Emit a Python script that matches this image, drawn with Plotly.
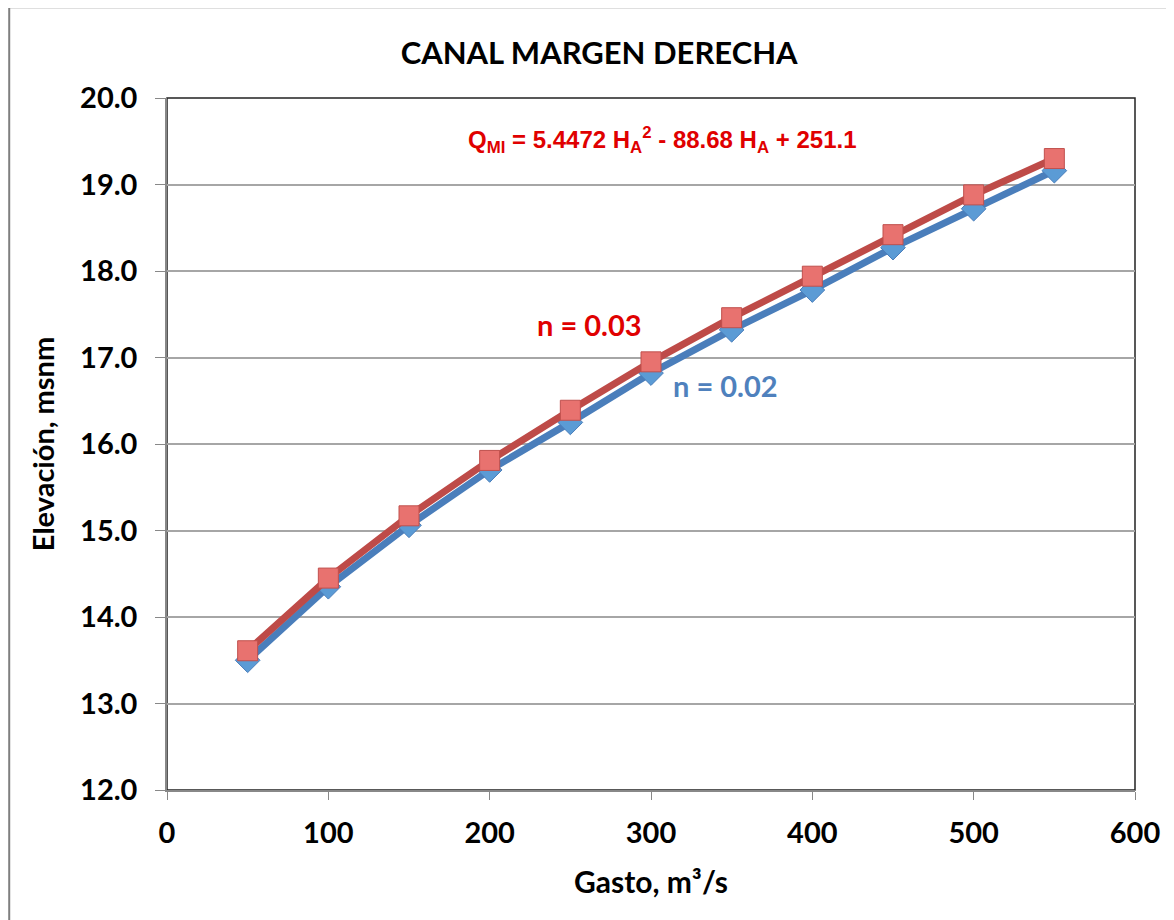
import plotly.graph_objects as go

# Datos
gasto = [50, 100, 150, 200, 250, 300, 350, 400, 450, 500, 550]
elev_n002 = [13.50, 14.35, 15.06, 15.70, 16.25, 16.82, 17.32, 17.78, 18.27, 18.72, 19.16]
elev_n003 = [13.61, 14.45, 15.17, 15.81, 16.39, 16.95, 17.46, 17.94, 18.42, 18.88, 19.30]

x_ticks = [0, 100, 200, 300, 400, 500, 600]
y_ticks = [12.0, 13.0, 14.0, 15.0, 16.0, 17.0, 18.0, 19.0, 20.0]

FONT = "Lato, 'Open Sans', sans-serif"

fig = go.Figure()

# n = 0.02 (azul, rombos)
fig.add_trace(go.Scatter(
    x=gasto, y=elev_n002, mode="lines+markers", name="n = 0.02",
    line=dict(color="#4A7EBB", width=7),
    marker=dict(symbol="diamond", size=19, color="#5B9BD5",
                line=dict(color="#4A7EBB", width=1)),
    showlegend=False
))

# n = 0.03 (rojo, cuadrados)
fig.add_trace(go.Scatter(
    x=gasto, y=elev_n003, mode="lines+markers", name="n = 0.03",
    line=dict(color="#BE4B48", width=7),
    marker=dict(symbol="square", size=20, color="#E8726F",
                line=dict(color="#C0504D", width=1)),
    showlegend=False
))

# Etiquetas
fig.add_annotation(x=262, y=17.38, text="<b>n = 0.03</b>", showarrow=False,
                   font=dict(family=FONT, size=29, color="#E00000"))
fig.add_annotation(x=346, y=16.68, text="<b>n = 0.02</b>", showarrow=False,
                   font=dict(family=FONT, size=29, color="#4F81BD"))
fig.add_annotation(
    x=307, y=19.52, showarrow=False,
    text="<b>Q<sub>MI</sub> = 5.4472 H<sub>A</sub><sup>2</sup> - 88.68 H<sub>A</sub> + 251.1</b>",
    font=dict(family="Liberation Sans, Arial, sans-serif", size=24, color="#E00000")
)
# Título del eje X
fig.add_annotation(x=0.5, y=-0.131, xref="paper", yref="paper", showarrow=False,
                   text="<b>Gasto, m³/s</b>", yanchor="middle",
                   font=dict(family=FONT, size=30, color="black"))

# Marco exterior del gráfico
fig.add_shape(type="rect", xref="paper", yref="paper",
              x0=-0.163, y0=-0.3, x1=1.1, y1=1.131,
              line=dict(color="#7F7F7F", width=2), layer="above")
# Borde del área de trazado
fig.add_shape(type="rect", xref="paper", yref="paper",
              x0=0, y0=0, x1=1, y1=1,
              line=dict(color="#222222", width=1.5), layer="below")

fig.update_layout(
    width=1166, height=912,
    paper_bgcolor="white", plot_bgcolor="white",
    margin=dict(l=159, r=39, t=90, b=130),
    title=dict(text="<b>CANAL MARGEN DERECHA</b>", x=0.507, xanchor="center",
               y=0.95, yanchor="middle",
               font=dict(family=FONT, size=31, color="black")),
    font=dict(family=FONT, color="black"),
)

fig.update_xaxes(
    range=[0, 600], tickvals=x_ticks, ticktext=[str(v) for v in x_ticks],
    showgrid=False, zeroline=False,
    showline=True, linecolor="#888888", linewidth=1.5,
    ticks="outside", ticklen=8, tickcolor="#888888",
    ticklabelstandoff=8,
    tickfont=dict(family=FONT, size=29, color="black", weight="bold"),
)
fig.update_yaxes(
    range=[12, 20], tickvals=y_ticks, ticktext=[f"{v:.1f}" for v in y_ticks],
    showgrid=True, gridcolor="#A6A6A6", gridwidth=1.5, zeroline=False,
    showline=True, linecolor="#888888", linewidth=1.5,
    ticks="outside", ticklen=10, tickcolor="#888888",
    ticklabelstandoff=12,
    tickfont=dict(family=FONT, size=29, color="black", weight="bold"),
    title=dict(text="<b>Elevación, msnm</b>", standoff=17,
               font=dict(family=FONT, size=29, color="black")),
)

fig.write_html("out.html")
